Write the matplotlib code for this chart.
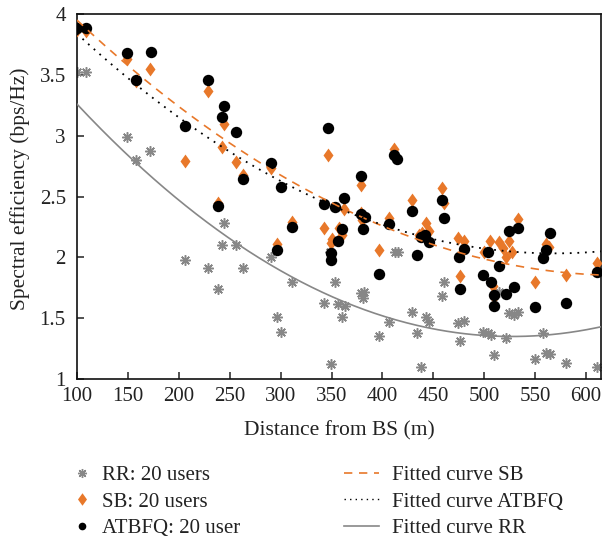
import numpy as np
import matplotlib
matplotlib.use("Agg")
import matplotlib.pyplot as plt
from matplotlib.path import Path
from matplotlib.lines import Line2D

plt.rcParams['font.family'] = ['Liberation Serif', 'DejaVu Serif']

# ---------------- data ----------------
rr_d = [100, 109.2, 149.6, 172.2, 158.5, 244.4, 242.1, 255.9, 206.3, 229.1, 263.5, 238.8,
        290.8, 311.1, 296.7, 300.7, 353.2, 343.1, 356.6, 363.0, 360.4, 349.6, 349.0,
        379.4, 380.7, 381.7, 396.4, 406.1, 412.8, 415.3, 429.4, 434.2, 437.8, 442.7, 445.5,
        460.4, 458.5, 476.5, 474.1, 479.7, 498.6, 503.6, 506.8, 509.2, 514.0, 521.5, 523.8,
        528.7, 533.0, 550.0, 560.4, 564.7, 558.1, 580.0, 610.4]
rr_v = [3.52, 3.52, 2.99, 2.87, 2.80, 2.28, 2.10, 2.10, 1.98, 1.915, 1.915, 1.74,
        2.00, 1.795, 1.513, 1.39, 1.798, 1.623, 1.615, 1.60, 1.508, 1.124, 2.047,
        1.705, 1.664, 1.718, 1.354, 1.472, 2.047, 2.047, 1.549, 1.376, 1.102, 1.508, 1.472,
        1.795, 1.685, 1.313, 1.458, 1.48, 1.39, 1.376, 1.362, 1.198, 1.718, 1.335, 1.541,
        1.527, 1.554, 1.163, 1.212, 1.204, 1.376, 1.13, 1.097]

sb_d = [100, 109.2, 149.6, 172.2, 158.3, 228.8, 244.4, 242.1, 206.3, 255.9, 263.5, 238.8,
        290.8, 311.1, 296.7, 346.6, 343.1, 349.6, 362.4, 357.2, 360.4, 379.4, 378.7,
        380.1, 396.4, 406.1, 411.8, 429.4, 442.4, 445.5, 435.6, 439.0, 458.5, 460.4, 476.5, 474.1,
        479.7, 499.4, 505.2, 508.5, 509.9, 514.0, 523.8, 521.5, 527.1, 533.0, 550.0, 560.4,
        563.8, 580.0, 610.4, 518.1, 350.0]
sb_v = [3.87, 3.86, 3.628, 3.546, 3.45, 3.37, 3.096, 2.905, 2.792, 2.781, 2.677, 2.445,
        2.732, 2.293, 2.11, 2.841, 2.244, 2.121, 2.398, 2.239, 2.184, 2.595, 2.362,
        2.307, 2.061, 2.321, 2.888, 2.472, 2.28, 2.219, 2.184, 2.198, 2.573, 2.444, 1.85, 2.162,
        2.137, 2.047, 2.135, 1.768, 1.677, 2.124, 2.135, 2.006, 2.042, 2.316, 1.80, 2.108,
        2.083, 1.855, 1.951, 2.08, 2.15]

at_d = [100, 109.2, 149.1, 172.6, 157.9, 228.8, 244.1, 242.1, 206.3, 255.9, 263.5, 239.0,
        290.8, 300.3, 311.1, 296.7, 346.6, 343.1, 353.2, 362.7, 360.4, 356.6, 349.6, 349.6,
        379.4, 378.7, 382.6, 380.7, 396.4, 406.1, 411.8, 414.3, 429.4, 434.2, 437.8, 442.1, 445.5,
        458.5, 460.4, 476.5, 474.8, 479.7, 498.6, 503.6, 506.8, 509.2, 509.9, 514.0, 521.5, 528.7,
        523.8, 533.0, 550.0, 564.7, 560.4, 558.1, 580.0, 610.4]
at_v = [3.885, 3.885, 3.68, 3.69, 3.458, 3.458, 3.24, 3.15, 3.08, 3.033, 2.644, 2.42,
        2.773, 2.58, 2.247, 2.061, 3.066, 2.436, 2.41, 2.486, 2.233, 2.135, 2.034, 1.98,
        2.669, 2.354, 2.334, 2.23, 1.861, 2.272, 2.841, 2.81, 2.384, 2.017, 2.17, 2.184, 2.129,
        2.472, 2.324, 1.74, 2.0, 2.067, 1.855, 2.042, 1.80, 1.69, 1.603, 1.932, 1.697, 1.76,
        2.217, 2.239, 1.595, 2.203, 2.061, 1.993, 1.628, 1.883]

# fitted curves (values read at these distances)
fit_d = [100, 200, 300, 400, 500, 614]
fit_sb = [3.950, 3.240, 2.675, 2.258, 1.986, 1.855]
fit_at = [3.838, 3.151, 2.627, 2.267, 2.072, 2.049]
fit_rr = [3.260, 2.471, 1.890, 1.519, 1.358, 1.428]

x_ticks = [100, 150, 200, 250, 300, 350, 400, 450, 500, 550, 600]
y_ticks = [1, 1.5, 2, 2.5, 3, 3.5, 4]
y_tick_labels = ['1', '1.5', '2', '2.5', '3', '3.5', '4']

labels_pts = ["RR: 20 users", "SB: 20 users", "ATBFQ: 20 user"]
labels_fit = ["Fitted curve SB", "Fitted curve ATBFQ", "Fitted curve RR"]

# ---------------- styling ----------------
ORANGE = '#E8782A'
GREY = '#878787'
BLACK = '#000000'
TXT = '#222222'

diamond = Path([(0, 1), (0.72, 0), (0, -1), (-0.72, 0), (0, 1)],
               [Path.MOVETO, Path.LINETO, Path.LINETO, Path.LINETO, Path.CLOSEPOLY])
star = (8, 2, 0)

fig = plt.figure(figsize=(6.03, 5.42), dpi=100)
ax = fig.add_axes([0.1275, 0.3007, 0.869, 0.6735])

ax.plot(rr_d, rr_v, linestyle='none', marker=star, markersize=7.5,
        markeredgecolor=GREY, markeredgewidth=1.1, color=GREY, zorder=2)
ax.plot(sb_d, sb_v, linestyle='none', marker=diamond, markersize=10,
        color=ORANGE, markeredgewidth=0, zorder=3)
ax.plot(at_d, at_v, linestyle='none', marker='o', markersize=8.2,
        color=BLACK, markeredgewidth=0, zorder=4)

xx = np.linspace(100, 614.5, 300)
for vals, style, col, lw in [(fit_sb, (0, (5, 4)), ORANGE, 1.2),
                             (fit_at, (0, (1, 3.2)), BLACK, 1.3),
                             (fit_rr, '-', GREY, 1.2)]:
    p = np.polyfit(fit_d, vals, 2)
    ax.plot(xx, np.polyval(p, xx), linestyle=style, color=col, linewidth=lw, zorder=5)

ax.set_xlim(100, 614.5)
ax.set_ylim(1, 4)
ax.set_xticks(x_ticks)
ax.set_yticks(y_ticks)
ax.set_yticklabels(y_tick_labels)
ax.tick_params(direction='in', length=5, width=1.1, labelsize=15, colors=TXT,
               top=False, right=False)
ax.tick_params(axis='x', pad=6)
ax.tick_params(axis='y', pad=8)
for s in ax.spines.values():
    s.set_linewidth(1.2)
    s.set_color('#111111')

ax.set_xlabel("Distance from BS (m)", fontsize=15.5, color=TXT)
ax.set_ylabel("Spectral efficiency (bps/Hz)", fontsize=15.5, color=TXT)
ax.xaxis.set_label_coords(0.5, -0.115)
ax.yaxis.set_label_coords(-0.089, 0.52)

h_pts = [Line2D([], [], linestyle='none', marker=star, markersize=6.5, markeredgecolor=GREY,
                markeredgewidth=1.0, color=GREY),
         Line2D([], [], linestyle='none', marker=diamond, markersize=9, color=ORANGE,
                markeredgewidth=0),
         Line2D([], [], linestyle='none', marker='o', markersize=5.5, color=BLACK,
                markeredgewidth=0)]
h_fit = [Line2D([], [], linestyle=(0, (5, 4)), color=ORANGE, linewidth=1.2),
         Line2D([], [], linestyle=(0, (1, 3)), color=BLACK, linewidth=1.0),
         Line2D([], [], linestyle='-', color=GREY, linewidth=1.2)]

leg1 = fig.legend(h_pts, labels_pts, loc='center left', bbox_to_anchor=(0.121, 0.074),
                  frameon=False, fontsize=15, handlelength=0.9, handletextpad=0.5,
                  labelspacing=0.32, borderaxespad=0, borderpad=0)
leg2 = fig.legend(h_fit, labels_fit, loc='center left', bbox_to_anchor=(0.570, 0.074),
                  frameon=False, fontsize=15, handlelength=1.7, handletextpad=0.6,
                  labelspacing=0.32, borderaxespad=0, borderpad=0)
for t in leg1.get_texts() + leg2.get_texts():
    t.set_color(TXT)

fig.savefig("out.png", dpi=100)
